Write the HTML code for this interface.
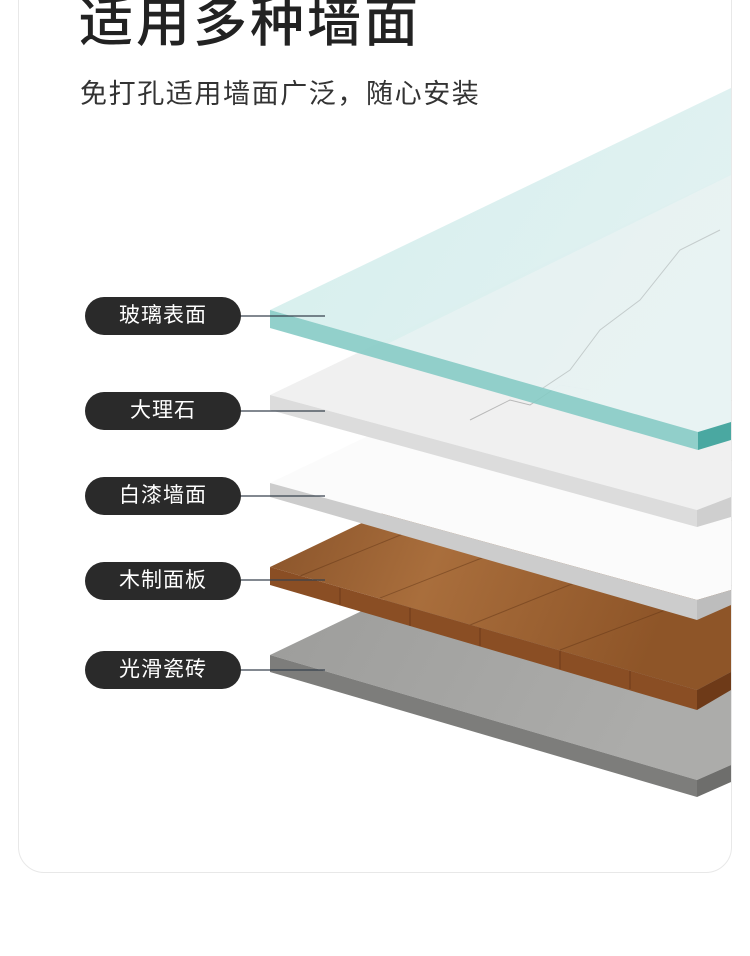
<!DOCTYPE html>
<html><head><meta charset="utf-8"><style>
html,body{margin:0;padding:0;background:#fff;}
body{width:750px;height:956px;position:relative;overflow:hidden;font-family:"Liberation Sans","Noto Sans CJK SC",sans-serif;}
.card{position:absolute;left:18px;top:-40px;width:714px;height:913px;border:1.5px solid #e8e8e8;border-radius:26px;box-sizing:border-box;background:#fff;}
.t1{position:absolute;left:79px;top:-9px;font-size:54px;color:#222;letter-spacing:3px;font-weight:500;line-height:64px;}
.t2{position:absolute;left:80px;top:76px;font-size:27px;color:#333;line-height:36px;letter-spacing:1.6px;}
.pill{position:absolute;left:85px;width:156px;height:38px;border-radius:19px;background:#2a2a2a;color:#fff;font-size:21px;line-height:38px;text-align:center;letter-spacing:1px;}
svg{position:absolute;left:0;top:0;}
</style></head><body>
<div class="card"></div>
<div class="t1">适用多种墙面</div>
<div class="t2">免打孔适用墙面广泛，随心安装</div>
<svg width="750" height="956" viewBox="0 0 750 956">
<defs>
<linearGradient id="wood" x1="0" y1="0" x2="1" y2="0.3">
<stop offset="0" stop-color="#7e4a24"/><stop offset="0.5" stop-color="#a96e3c"/><stop offset="1" stop-color="#8e5528"/></linearGradient>
<linearGradient id="stone" x1="0" y1="0" x2="1" y2="0.4">
<stop offset="0" stop-color="#9a9a98"/><stop offset="1" stop-color="#acacaa"/></linearGradient>
<linearGradient id="glass" x1="0" y1="0" x2="1" y2="0.5">
<stop offset="0" stop-color="#d3eeec"/><stop offset="1" stop-color="#e0f1f1"/></linearGradient>
</defs>
<polygon points="270,655 731,434 731,765 697,780" fill="url(#stone)"/>
<polygon points="270,655 697,780 697,797 270,672" fill="#7d7d7b"/>
<polygon points="697,780 731,765 731,782 697,797" fill="#6e6e6c"/>
<polygon points="270,567 731,346 731,672 697,690" fill="url(#wood)"/>
<g stroke="#5e3214" stroke-width="1" opacity="0.45">
<line x1="300" y1="576" x2="731" y2="400"/><line x1="380" y1="598" x2="731" y2="460"/><line x1="470" y1="625" x2="731" y2="520"/><line x1="560" y1="650" x2="731" y2="585"/>
</g>
<polygon points="270,567 697,690 697,710 270,585" fill="#8a4e24"/>
<polygon points="697,690 731,672 731,690 697,710" fill="#6e3a18"/>
<g stroke="#5a3014" stroke-width="1" opacity="0.6">
<line x1="340" y1="588" x2="340" y2="605"/><line x1="410" y1="608" x2="410" y2="626"/><line x1="480" y1="628" x2="480" y2="646"/><line x1="560" y1="651" x2="560" y2="669"/><line x1="630" y1="671" x2="630" y2="689"/>
</g>
<polygon points="270,483 731,262 731,590 697,600" fill="#fbfbfb"/>
<polygon points="270,483 697,600 697,620 270,497" fill="#cccccc"/>
<polygon points="697,600 731,590 731,605 697,620" fill="#bdbdbd"/>
<polygon points="270,395 731,174 731,497 697,510" fill="#f0f0f0"/>
<polyline points="470,420 510,400 530,405 560,385 590,390" fill="none" stroke="#b8b8b8" stroke-width="1"/>
<polygon points="270,395 697,510 697,527 270,410" fill="#dcdcdc"/>
<polygon points="697,510 731,497 731,517 697,527" fill="#cfcfcf"/>
<polygon points="270,310 731,88 731,422 698,432" fill="url(#glass)" opacity="0.95"/>
<polygon points="385,345 731,175 731,422 698,432" fill="#eef4f4" opacity="0.55"/>
<polyline points="540,390 570,370 600,330 640,300 680,250 720,230" fill="none" stroke="#c4cccc" stroke-width="1"/>
<polygon points="270,310 698,432 698,450 270,328" fill="#86cbc5" opacity="0.9"/>
<polygon points="698,432 731,422 731,440 698,450" fill="#4aa8a1"/>
<g stroke="#37414d" stroke-width="1.2">
<line x1="240" y1="316" x2="325" y2="316"/>
<line x1="240" y1="411" x2="325" y2="411"/>
<line x1="240" y1="496" x2="325" y2="496"/>
<line x1="240" y1="580" x2="325" y2="580"/>
<line x1="240" y1="670" x2="325" y2="670"/>
</g>
</svg>
<div class="pill" style="top:297px">玻璃表面</div>
<div class="pill" style="top:392px">大理石</div>
<div class="pill" style="top:477px">白漆墙面</div>
<div class="pill" style="top:562px">木制面板</div>
<div class="pill" style="top:651px">光滑瓷砖</div>
</body></html>
